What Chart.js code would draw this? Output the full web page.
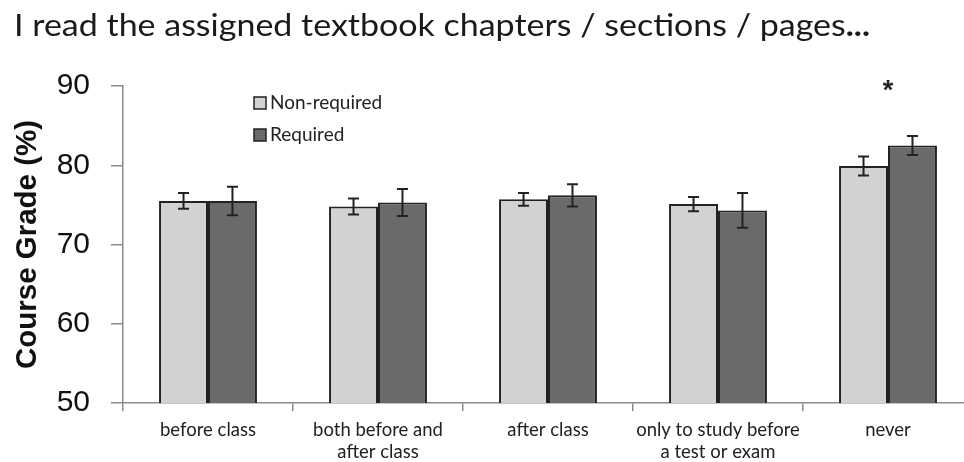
<!DOCTYPE html>
<html>
<head>
<meta charset="utf-8">
<script src="https://cdn.jsdelivr.net/npm/chart.js@4.4.1/dist/chart.umd.min.js"></script>
<style>
  html, body { margin: 0; padding: 0; background: #fff; overflow: hidden; }
  #wrap { width: 980px; height: 462px; }
</style>
</head>
<body>
<div id="wrap"><canvas id="chart" width="980" height="462"></canvas></div>
<script>
const titleText = 'I read the assigned textbook chapters / sections / pages';
const titleTail = '...';
const categories = [
  ['before class'],
  ['both before and', 'after class'],
  ['after class'],
  ['only to study before', 'a test or exam'],
  ['never']
];
const nonRequired = [75.5, 74.8, 75.7, 75.1, 79.9];
const nonRequiredErr = [1.0, 1.0, 0.8, 0.9, 1.2];
const required = [75.5, 75.3, 76.2, 74.3, 82.5];
const requiredErr = [1.8, 1.7, 1.4, 2.2, 1.2];
const yTicks = [50, 60, 70, 80, 90];
const significant = [false, false, false, false, true];

const errors = [nonRequiredErr, requiredErr];

// error bars, asterisk, title and legend drawn on top
const extras = {
  id: 'extras',
  afterDatasetsDraw(chart) {
    const ctx = chart.ctx;
    const y = chart.scales.y;
    ctx.save();
    ctx.strokeStyle = '#222';
    ctx.lineWidth = 2;
    chart.data.datasets.forEach((ds, di) => {
      const meta = chart.getDatasetMeta(di);
      meta.data.forEach((bar, i) => {
        const v = ds.data[i], e = errors[di][i];
        const top = y.getPixelForValue(v + e);
        const bot = y.getPixelForValue(v - e);
        ctx.beginPath();
        ctx.moveTo(bar.x, top); ctx.lineTo(bar.x, bot);
        ctx.moveTo(bar.x - 5.5, top); ctx.lineTo(bar.x + 5.5, top);
        ctx.moveTo(bar.x - 5.5, bot); ctx.lineTo(bar.x + 5.5, bot);
        ctx.stroke();
      });
    });
    // significance marker
    ctx.fillStyle = '#222';
    ctx.font = 'bold 27px "Liberation Sans"';
    ctx.textAlign = 'center';
    ctx.textBaseline = 'middle';
    significant.forEach((s, i) => {
      if (!s) return;
      ctx.fillText('*', chart.scales.x.getPixelForValue(i), 92);
    });
    ctx.restore();
  },
  afterDraw(chart) {
    const ctx = chart.ctx;
    ctx.save();
    // title, condensed a little to fit the original width
    ctx.fillStyle = '#1a1a1a';
    ctx.textBaseline = 'alphabetic';
    ctx.textAlign = 'left';
    ctx.font = '31px Lato';
    const w1 = ctx.measureText(titleText).width;
    ctx.font = 'bold 31px Lato';
    const w2 = ctx.measureText(titleTail).width;
    const sx = 856 / (w1 + w2);
    ctx.translate(14, 36);
    ctx.scale(sx, 1);
    ctx.font = '31px Lato';
    ctx.fillText(titleText, 0, 0);
    ctx.font = 'bold 31px Lato';
    ctx.fillText(titleTail, w1, 0);
    ctx.setTransform(1, 0, 0, 1, 0, 0);
    // legend
    ctx.font = '19px Lato';
    ctx.textBaseline = 'middle';
    chart.data.datasets.forEach((ds, di) => {
      const ly = 103 + di * 32;
      ctx.fillStyle = ds.backgroundColor;
      ctx.fillRect(254, ly - 6, 12, 12);
      ctx.strokeStyle = '#222';
      ctx.lineWidth = 1.5;
      ctx.strokeRect(254, ly - 6, 12, 12);
      ctx.fillStyle = '#222';
      ctx.fillText(ds.label, 270, ly);
    });
    ctx.restore();
  }
};

new Chart(document.getElementById('chart'), {
  type: 'bar',
  data: {
    labels: categories,
    datasets: [
      { label: 'Non-required', data: nonRequired, backgroundColor: '#d2d2d2', borderColor: '#222', borderWidth: 2 },
      { label: 'Required', data: required, backgroundColor: '#6a6a6a', borderColor: '#222', borderWidth: 2 }
    ]
  },
  options: {
    responsive: false,
    animation: false,
    layout: { padding: { top: 86, right: 7, left: 0, bottom: 0 } },
    datasets: { bar: { categoryPercentage: 0.576, barPercentage: 1.0 } },
    plugins: { legend: { display: false }, tooltip: { enabled: false }, title: { display: false } },
    scales: {
      x: {
        offset: true,
        grid: { offset: true, drawOnChartArea: false, tickLength: 8, color: '#8a8a8a', lineWidth: 1.5 },
        border: { color: '#8a8a8a', width: 1.5 },
        ticks: { color: '#222', font: { family: 'Lato', size: 18.5, lineHeight: 1.19 }, padding: 8, maxRotation: 0, autoSkip: false },
        afterFit: s => { s.height = 59; }
      },
      y: {
        min: 50, max: 90,
        afterBuildTicks: s => { s.ticks = yTicks.map(v => ({ value: v })); },
        grid: { drawOnChartArea: false, tickLength: 12, color: '#8a8a8a', lineWidth: 1.5 },
        border: { color: '#8a8a8a', width: 1.5 },
        ticks: { color: '#111', font: { family: 'Liberation Sans', size: 30 }, padding: 21 },
        title: { display: true, text: 'Course Grade (%)', color: '#111', font: { family: 'Liberation Sans', size: 29.5, weight: 'bold' }, padding: { top: 10, bottom: 0 } },
        afterFit: s => { s.width = 123; }
      }
    }
  },
  plugins: [extras]
});
</script>
</body>
</html>
